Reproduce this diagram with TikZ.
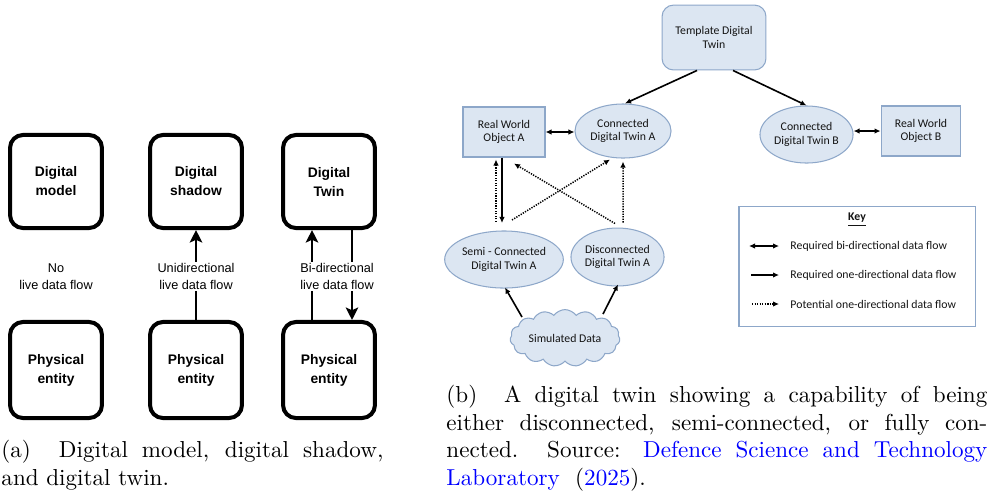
\documentclass[tikz,border=0pt]{standalone}
\usepackage{fontspec}
\newfontfamily\arialfont{Liberation Sans}
\newfontfamily\calibrifont{Carlito}
\usetikzlibrary{arrows.meta,shapes.geometric,shapes.symbols,calc}
\definecolor{twinfill}{RGB}{220,230,242}
\definecolor{twinedge}{RGB}{141,167,201}
\definecolor{citeblue}{RGB}{0,0,255}
\definecolor{twintext}{RGB}{20,20,20}

\begin{document}
\begin{tikzpicture}[x=0.433pt,y=-0.433pt,
  stagebox/.style={draw, line width=1.73pt, rounded corners=5.6pt,
    minimum width=39.8pt, align=center, inner sep=0pt,
    font=\arialfont\bfseries\fontsize{6}{8.2}\selectfont},
  flowlabel/.style={fill=white, align=center, inner sep=0.6pt,
    font=\arialfont\fontsize{5.5}{7.2}\selectfont},
  flowarrow/.style={line width=1.15pt,
    -{Stealth[length=5.4pt,width=5.4pt,inset=1.2pt]}},
  twinbase/.style={draw=twinedge, fill=twinfill, line width=0.45pt,
    align=center, inner sep=0pt, text=twintext,
    font=\calibrifont\fontsize{5.1}{5.9}\selectfont},
  tmplbox/.style={twinbase, rounded corners=5pt},
  rwbox/.style={twinbase},
  twinell/.style={twinbase, ellipse},
  simcloud/.style={twinbase, cloud, cloud puffs=15, cloud puff arc=110,
    aspect=2.2},
  reqarrow/.style={line width=0.7pt, -{Latex[length=2.6pt,width=2.4pt]}},
  reqbi/.style={line width=0.7pt, {Latex[length=2.6pt,width=2.4pt]}-{Latex[length=2.6pt,width=2.4pt]}},
  potarrow/.style={line width=0.65pt, dash pattern=on 0.55pt off 0.55pt,
    -{Latex[length=2.6pt,width=2.4pt]}},
  keytext/.style={anchor=west, inner sep=0pt, text=twintext,
    font=\calibrifont\fontsize{5.1}{5.9}\selectfont},
  capline/.style={anchor=base west, inner sep=0pt,
    font=\fontsize{10}{12}\selectfont}
]
\useasboundingbox (0,0) rectangle (987,497);

% ---------- (a) model / shadow / twin ----------
\node[stagebox, minimum height=40.3pt] (dm) at (56,181.5) {Digital\\model};
\node[stagebox, minimum height=40.3pt] (ds) at (196,181.5) {Digital\\shadow};
\node[stagebox, minimum height=40.3pt] (dt) at (329,181.5) {Digital\\Twin};
\node[stagebox, minimum height=41.6pt] (pe1) at (56,370) {Physical\\entity};
\node[stagebox, minimum height=41.6pt] (pe2) at (196,370) {Physical\\entity};
\node[stagebox, minimum height=41.6pt] (pe3) at (329,370) {Physical\\entity};

\node[flowlabel] (nolive) at (56,276.5) {No\\live data flow};

\draw[flowarrow] (pe2.north) -- (ds.south);
\node[flowlabel] (uni) at (196,276.5) {Unidirectional\\live data flow};

\draw[flowarrow] ($(pe3.north)+(-17,0)$) -- ($(dt.south)+(-17,0)$);
\draw[flowarrow] ($(dt.south)+(23,0)$) -- ($(pe3.north)+(23,0)$);
\node[flowlabel] (bi) at (337,276.5) {Bi-directional\\live data flow};

% ---------- (b) connected / semi-connected / disconnected ----------
\node[tmplbox, minimum width=45pt, minimum height=28.1pt] (tpl) at (714,37.5) {Template Digital\\Twin};
\node[rwbox, minimum width=35.5pt, minimum height=21.65pt] (rwa) at (504,132) {Real World\\Object A};
\node[twinell, minimum width=41.6pt, minimum height=23.4pt] (cta) at (623,131) {Connected\\Digital Twin A};
\node[twinell, minimum width=40.3pt, minimum height=24.7pt] (ctb) at (806.5,134.5) {Connected\\Digital Twin B};
\node[rwbox, minimum width=34.6pt, minimum height=21.65pt] (rwb) at (921,131) {Real World\\Object B};
\node[twinell, minimum width=45pt, minimum height=24.7pt] (semi) at (504,259.5) {Semi - Connected\\Digital Twin A};
\node[twinell, minimum width=40.3pt, minimum height=25.1pt] (disc) at (617.5,257) {Disconnected\\Digital Twin A};
\node[simcloud, minimum width=47.6pt, minimum height=21.6pt] (sim) at (565,338) {Simulated Data};

\draw[reqarrow] ($(tpl.south)+(-17,0)$) -- ($(cta.north)+(2,0)$);
\draw[reqarrow] ($(tpl.south)+(19,0)$) -- (ctb.north);
\draw[reqbi] (rwa.east) -- (rwa.east -| cta.west);
\draw[reqbi] (ctb.east |- rwb.west) -- (rwb.west);

\draw[potarrow] ($(semi.north)+(-8,-8.5)$) -- ($(rwa.south)+(-8,2)$);
\draw[reqarrow] ($(rwa.south)+(-2,0)$) -- ($(semi.north)+(-2,-7.5)$);
\draw[potarrow] ($(semi.north)+(8,-10.5)$) -- ($(cta.south)+(-13,1)$);
\draw[potarrow] ($(disc.north)+(-2.5,-4)$) -- ($(rwa.south)+(10,6)$);
\draw[potarrow] ($(disc.north)+(5.5,-5)$) -- ($(cta.south)+(0,3)$);

\draw[reqarrow] ($(sim.center)+(-43,-21)$) -- ($(semi.south)+(1,-1)$);
\draw[reqarrow] ($(sim.center)+(38,-24)$) -- ($(disc.south)+(0.5,-2)$);

% key
\node[draw=twinedge, line width=0.45pt, minimum width=102.2pt, minimum height=52pt, inner sep=0pt] (keybox) at (857,266.5) {};
\node[inner sep=0pt, text=twintext, font=\calibrifont\bfseries\fontsize{5.1}{5.9}\selectfont] (keytitle) at (857,220) {\underline{Key}};
\coordinate (k1a) at (749,246);  \coordinate (k1b) at (779,246);
\coordinate (k2a) at (751,275);  \coordinate (k2b) at (779,275);
\coordinate (k3a) at (752,304);  \coordinate (k3b) at (779,304);
\draw[reqbi] (k1a) -- (k1b);
\draw[reqarrow] (k2a) -- (k2b);
\draw[potarrow] (k3a) -- (k3b);
\node[keytext] (key1) at (790,246) {Required bi-directional data flow};
\node[keytext] (key2) at (790,275) {Required one-directional data flow};
\node[keytext] (key3) at (790,304) {Potential one-directional data flow};

% ---------- captions ----------
\node[capline] (capa1) at (1,457.5) {\makebox[165.4pt][s]{(a)~~Digital model, digital shadow,}};
\node[capline] (capa2) at (1,485) {and digital twin.};
\node[capline] (capb1) at (446,402) {\makebox[234.2pt][s]{(b)~~A digital twin showing a capability of being}};
\node[capline] (capb2) at (446,430) {\makebox[234.2pt][s]{either disconnected, semi-connected, or fully con-}};
\node[capline] (capb3) at (446,457.5) {\makebox[234.2pt][s]{nected. Source: \textcolor{citeblue}{Defence Science and Technology}}};
\node[capline] (capb4) at (446,485) {\textcolor{citeblue}{Laboratory}~~(\textcolor{citeblue}{2025}).};
\end{tikzpicture}
\end{document}
